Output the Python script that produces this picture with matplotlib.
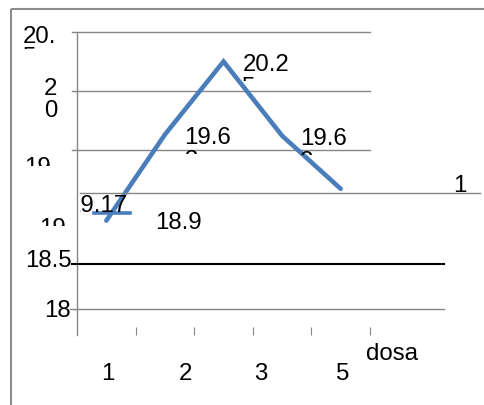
import matplotlib
matplotlib.use('Agg')
import matplotlib.pyplot as plt
from matplotlib.lines import Line2D
from matplotlib.patches import Rectangle
from matplotlib.transforms import Affine2D, Bbox

W, H = 485, 406
plt.rcParams['font.family'] = ['Liberation Sans', 'DejaVu Sans']

# data
dose_values = [18.9, 19.63, 20.25, 19.62, 19.17]
y_ticks = [20.5, 20, 19.5, 19, 18.5, 18]
x_labels = ['1', '2', '3', '5']
axis_title = 'dosa'
series_name = '1'

GRID = '#868686'
FRAME = '#8c8c8c'
BLUE = '#4A7EBB'
FS = 17.3

fig = plt.figure(figsize=(W / 100, H / 100), dpi=100)
px = Affine2D().scale(1, -1).translate(0, H)   # pixel coords, origin top-left


def clip(t, x0=0, top=0, x1=W, bottom=H):
    t.set_clip_box(Bbox.from_extents(x0, H - bottom, x1, H - top))
    t.set_clip_on(True)
    return t


def txt(x, y, s, ha='left'):
    return fig.text(x, y, s, transform=px, fontsize=FS, ha=ha, va='baseline', color='black')


def hline(x0, x1, y, color=GRID, lw=1.0):
    fig.add_artist(Line2D([x0, x1], [y, y], transform=px, color=color, lw=lw))


# chart frame
fig.add_artist(Rectangle((11, 10), 600, 600, transform=px, fill=False, edgecolor=FRAME, lw=1.5))

ax = fig.add_axes([77 / W, 1 - 336 / H, 293 / W, 303 / H])
ax.set_xlim(-0.5, len(dose_values) - 0.5)
ax.set_ylim(17.93, 20.5)
ax.patch.set_visible(False)
for side in ['top', 'right', 'bottom']:
    ax.spines[side].set_visible(False)
ax.spines['left'].set_color(GRID)
ax.spines['left'].set_linewidth(1.0)

# gridlines for the upper ticks
for v in y_ticks[:3]:
    ax.axhline(v, xmin=-5 / 293, xmax=1, color=GRID, lw=1.0, clip_on=False, zorder=1)

ax.set_yticks([])
ax.set_xticks([i + 0.5 for i in range(len(dose_values))])
ax.set_xticklabels([])
ax.tick_params(axis='x', direction='in', length=6, width=0.8, color=GRID)

# lower axis lines
hline(80, 480, 194)
hline(72, 444, 265, color='black', lw=1.5)
hline(70, 444, 310)

ax.plot(range(len(dose_values)), dose_values, color=BLUE, lw=3.3,
        solid_joinstyle='miter', solid_capstyle='round', zorder=3)

# legend key + name
fig.add_artist(Line2D([94, 130], [214, 214], transform=px, color=BLUE, lw=2.6))
txt(453, 192, series_name)

# y tick labels (wrapped / clipped)
labs = [f'{v:g}' for v in y_ticks]
txt(23, 43, labs[0][:3])
clip(txt(23, 64, labs[0][3:]), bottom=50)
txt(44, 95, labs[1][:1])
txt(44, 117, labs[1][1:])
clip(txt(24, 174, labs[2][:3]), bottom=167)
clip(txt(39, 235, labs[3]), bottom=227)
txt(72, 267, labs[4], ha='right')
txt(71, 317, labs[5], ha='right')

# x labels
for s, x in zip(x_labels, [101, 179, 254, 336]):
    txt(x, 380, s)
txt(366, 360, axis_title)

# data labels: (dx, dy) pixel offset of baseline from point, chars on first line
label_layout = [(49, 7, 4), (19, 8, 4), (19, 9, 4), (18, 8, 4), (-274, 22, 5)]
for i, (v, (dx, dy, n)) in enumerate(zip(dose_values, label_layout)):
    xd, yd = ax.transData.transform((i, v))
    x, y = xd + dx, H - yd + dy
    s = f'{v:g}'
    t = txt(x, y, s[:n])
    if i == 4:
        clip(t, x0=79.5)
    if len(s) > n:
        clip(txt(x, y + 23, s[n:]), bottom=y + 11)

fig.savefig('out.png', dpi=100)
